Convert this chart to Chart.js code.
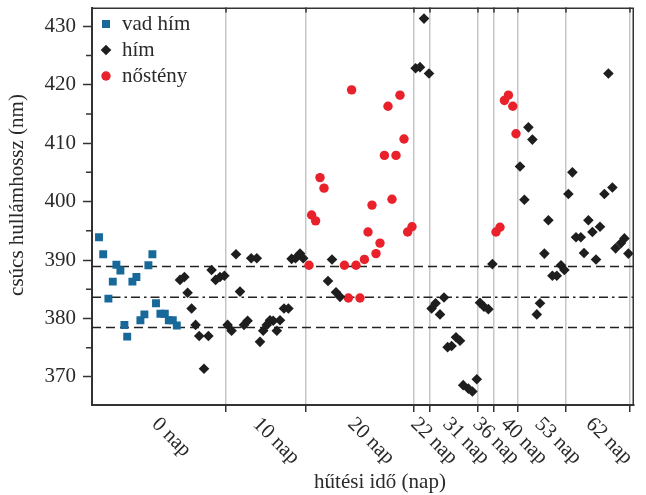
<!DOCTYPE html>
<html>
<head>
<meta charset="utf-8">
<script src="https://cdn.jsdelivr.net/npm/chart.js@4/dist/chart.umd.min.js"></script>
<style>
  html, body { margin: 0; padding: 0; background: #ffffff; }
  #c { display: block; }
</style>
</head>
<body>
<canvas id="c" width="646" height="495"></canvas>
<script>
// ---- data ----
const seriesNames = ['vad hím', 'hím', 'nőstény'];

const wildX = [1.75, 2.8, 4.1, 5.2, 6.1, 7.1, 8.1, 8.8, 10.1, 11.1, 12.1, 13.1, 14.1, 15.1, 16.0, 17.1, 18.2, 19.2, 20.2, 21.2];
const wildY = [393.9, 391.0, 383.4, 386.3, 389.2, 388.2, 378.9, 376.9, 386.3, 387.1, 379.7, 380.7, 389.1, 391.0, 382.6, 380.8, 380.8, 379.7, 379.7, 378.8];

const maleX = [22, 23.1, 23.9, 24.9, 25.9, 26.8, 28, 29.1, 29.9, 30.9, 32, 33.1,
  33.9, 34.9, 36.0, 37.0, 38.0, 38.9, 39.8, 41.2, 42.0, 42.8, 43.7, 44.5, 45.3, 46.2, 47.0, 48.0, 49.1, 49.9, 50.9, 52.0, 52.8,
  59.0, 60.0, 61.0, 62.0,
  80.9, 82.0, 83.0, 84.25,
  84.9, 85.9, 87.0, 88.0, 88.9, 89.9, 91.0, 92.0, 92.8, 94.1, 95.1, 96.2,
  97.0, 98.0, 99.1, 100.1,
  107.0, 108.1, 109.1, 110.1, 111.2, 112.0, 113.1, 114.1, 115.1, 116.2, 117.25, 118.1,
  119.1, 120.1, 121.0, 122.2, 123.0, 124.1, 125.1, 126.0, 127.0, 128.1, 129.1, 130.1, 130.9, 132.25, 133.1, 134.1];
const maleY = [386.6, 387.1, 384.4, 381.7, 378.9, 377.0, 371.4, 377.0, 388.3, 386.6, 387.1, 387.3,
  378.9, 377.9, 391.0, 384.6, 378.9, 379.6, 390.3, 390.3, 376.0, 377.9, 378.9, 379.7, 379.6, 377.9, 379.7, 381.7, 381.7, 390.2, 390.3, 391.1, 390.3,
  386.4, 390.1, 384.5, 383.7,
  422.8, 423.0, 431.3, 421.9,
  381.7, 382.6, 380.7, 383.6, 375.1, 375.3, 376.8, 376.2, 368.6, 368.0, 367.5, 369.6,
  382.7, 382.0, 381.6, 389.3,
  406.0, 400.3, 412.7, 410.6, 380.7, 382.6, 391.1, 396.8, 387.3, 387.3, 389.1, 388.3,
  401.3, 405.0, 393.9, 393.9, 391.2, 396.8, 394.8, 390.1, 395.7, 401.3, 421.9, 402.4, 392.0, 392.9, 393.7, 391.1];

const femaleX = [54.25, 54.9, 55.9, 57.0, 58.0,
  63.1, 64.1, 64.9, 66.0, 67.0, 68.1, 69.0, 70.0, 71.0, 72.0, 73.1, 74.0, 75.0, 76.0, 77.0, 78.0, 78.9, 80.0,
  101.0, 102.0, 103.1, 104.1, 105.2, 106.0];
const femaleY = [389.1, 397.7, 396.7, 404.1, 402.3,
  389.1, 383.5, 419.1, 389.1, 383.5, 390.1, 394.8, 399.4, 391.1, 392.9, 407.9, 416.3, 400.4, 407.9, 418.2, 410.7, 394.8, 395.7,
  394.8, 395.6, 417.3, 418.2, 416.3, 411.6];

const refLevels = [388.9, 383.65, 378.45];

const xRange = [0, 135.5];
const yRange = [365.2, 433.2];
const xBoundaries = [33.5, 53.5, 80.5, 84.5, 96.5, 100.5, 106.5, 118.5, 134.5];
const xTickLabels = ['0 nap', '10 nap', '20 nap', '22 nap', '31 nap', '36 nap', '40 nap', '53 nap', '62 nap'];
const xTickLabelPos = [15.75, 41, 64.75, 80.5, 88.5, 96, 103, 111.5, 124.25];
const yMajorTicks = [370, 380, 390, 400, 410, 420, 430];
const yMinorTicks = [375, 385, 395, 405, 415, 425];

const xTitle = 'hűtési idő (nap)';
const yTitle = 'csúcs hullámhossz (nm)';

// ---- styles ----
const FONT = '"Liberation Serif", "DejaVu Serif", serif';
const FSIZE = 21;
const TEXT = '#2a2a2a';
const AXIS = '#333333';
const seriesColors = ['#17699a', '#1e1e1e', '#e8212b'];
const refDash = [[9, 5], [9, 4, 2.5, 4], [9, 5]];

const toPts = (xs, ys) => xs.map((x, i) => ({ x: x, y: ys[i] }));

const datasets = [
  { label: seriesNames[0], data: toPts(wildX, wildY), pointStyle: 'rect', pointRadius: 5.6,
    backgroundColor: seriesColors[0], borderWidth: 0, pointBorderWidth: 0 },
  { label: seriesNames[1], data: toPts(maleX, maleY), pointStyle: 'rectRot', pointRadius: 5.3,
    backgroundColor: seriesColors[1], borderWidth: 0, pointBorderWidth: 0 },
  { label: seriesNames[2], data: toPts(femaleX, femaleY), pointStyle: 'circle', pointRadius: 4.7,
    backgroundColor: seriesColors[2], borderWidth: 0, pointBorderWidth: 0 }
];
refLevels.forEach((lv, i) => {
  datasets.push({
    label: 'ref' + i,
    data: [{ x: xRange[0], y: lv }, { x: xRange[1], y: lv }],
    showLine: true, pointRadius: 0, borderColor: '#222', borderWidth: 1.5,
    borderDash: refDash[i], fill: false
  });
});

const decor = {
  id: 'decor',
  afterDraw(chart) {
    const ctx = chart.ctx;
    const ca = chart.chartArea;
    const xs = chart.scales.x, ys = chart.scales.y;
    ctx.save();
    // top & right frame
    ctx.strokeStyle = AXIS;
    ctx.lineWidth = 1.5;
    ctx.beginPath();
    ctx.moveTo(ca.left, ca.top + 0.75);
    ctx.lineTo(ca.right - 0.75, ca.top + 0.75);
    ctx.lineTo(ca.right - 0.75, ca.bottom);
    ctx.stroke();
    // top inward ticks
    ctx.beginPath();
    xBoundaries.forEach(v => {
      const px = xs.getPixelForValue(v);
      ctx.moveTo(px, ca.top);
      ctx.lineTo(px, ca.top + 5);
    });
    ctx.stroke();
    // y minor ticks
    ctx.beginPath();
    yMinorTicks.forEach(v => {
      const py = ys.getPixelForValue(v);
      ctx.moveTo(ca.left - 6, py);
      ctx.lineTo(ca.left, py);
    });
    ctx.stroke();

    ctx.fillStyle = TEXT;
    ctx.font = FSIZE + 'px ' + FONT;
    // x tick labels rotated 45deg
    xTickLabels.forEach((t, i) => {
      const px = xs.getPixelForValue(xTickLabelPos[i]);
      ctx.save();
      ctx.translate(px, ca.bottom + 16);
      ctx.rotate(Math.PI / 4);
      ctx.textAlign = 'left';
      ctx.textBaseline = 'middle';
      ctx.fillText(t, 0, 0);
      ctx.restore();
    });
    // axis titles
    ctx.textAlign = 'center';
    ctx.textBaseline = 'middle';
    ctx.fillText(xTitle, 380, 482);
    ctx.save();
    ctx.translate(17, 195);
    ctx.rotate(-Math.PI / 2);
    ctx.fillText(yTitle, 0, 0);
    ctx.restore();

    // legend
    const lx = ca.left + 14;
    const rows = [ca.top + 16.5, ca.top + 42.5, ca.top + 68.5];
    rows.forEach((ly, i) => {
      ctx.fillStyle = seriesColors[i];
      ctx.beginPath();
      if (i === 0) {
        ctx.rect(lx - 4, ly - 4, 8, 8);
      } else if (i === 1) {
        ctx.moveTo(lx - 5.3, ly); ctx.lineTo(lx, ly - 5.3); ctx.lineTo(lx + 5.3, ly); ctx.lineTo(lx, ly + 5.3);
        ctx.closePath();
      } else {
        ctx.arc(lx, ly, 4.7, 0, Math.PI * 2);
      }
      ctx.fill();
      ctx.fillStyle = TEXT;
      ctx.textAlign = 'left';
      ctx.textBaseline = 'middle';
      ctx.fillText(seriesNames[i], lx + 16, ly);
    });
    ctx.restore();
  }
};

new Chart(document.getElementById('c'), {
  type: 'scatter',
  data: { datasets: datasets },
  options: {
    responsive: false,
    animation: false,
    devicePixelRatio: 1,
    layout: { padding: { left: 0, top: 7.5, right: 12, bottom: 0 } },
    plugins: { legend: { display: false }, tooltip: { enabled: false } },
    scales: {
      x: {
        type: 'linear', min: xRange[0], max: xRange[1],
        afterBuildTicks: s => { s.ticks = xBoundaries.map(v => ({ value: v })); },
        ticks: { display: false },
        grid: { color: '#c6c6c6', lineWidth: 1.5, drawTicks: true, tickLength: 7, tickColor: AXIS, tickWidth: 1.5 },
        border: { display: true, color: AXIS, width: 2 },
        afterFit: s => { s.height = 90; s.paddingLeft = 0; s.paddingRight = 0; }
      },
      y: {
        type: 'linear', min: yRange[0], max: yRange[1],
        afterBuildTicks: s => { s.ticks = yMajorTicks.map(v => ({ value: v })); },
        ticks: { color: TEXT, font: { family: FONT, size: FSIZE }, padding: 7 },
        grid: { drawOnChartArea: false, drawTicks: true, tickLength: 9, tickColor: AXIS, tickWidth: 1.5 },
        border: { display: true, color: AXIS, width: 2 },
        afterFit: s => { s.width = 92; s.paddingTop = 0; s.paddingBottom = 0; }
      }
    }
  },
  plugins: [decor]
});
</script>
</body>
</html>
